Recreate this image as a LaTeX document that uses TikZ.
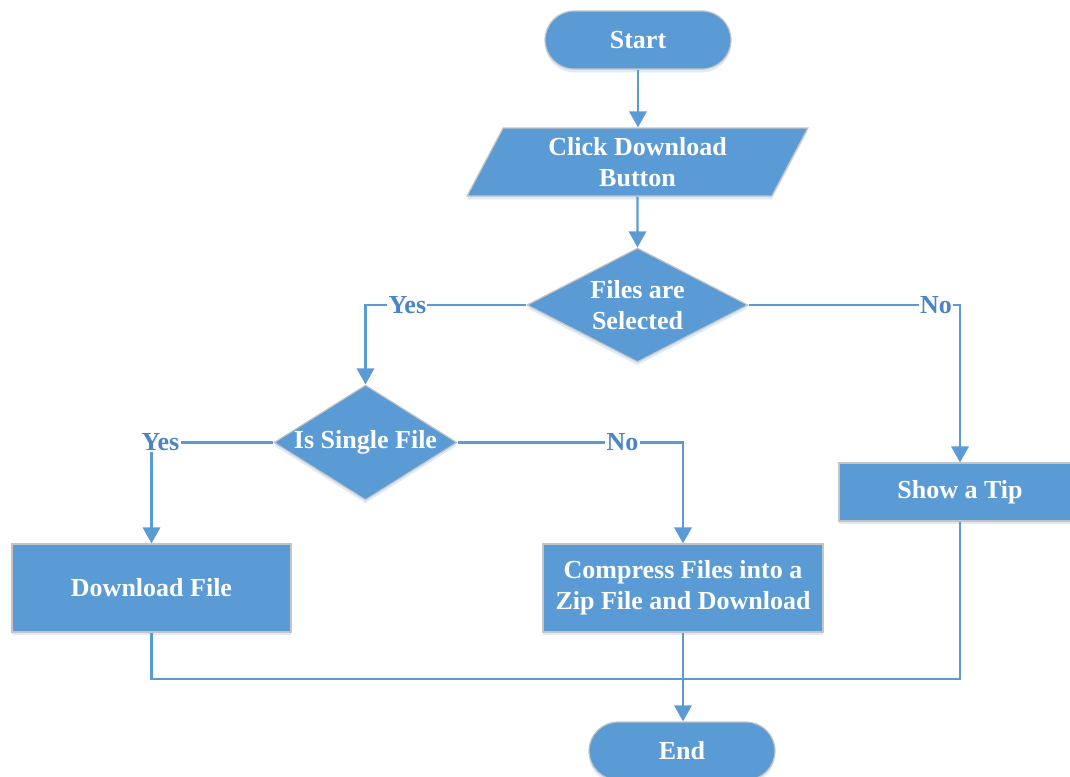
\documentclass[tikz,border=0pt]{standalone}
\usepackage{fontspec}
\setmainfont{Liberation Serif}
\usetikzlibrary{shapes.geometric,shapes.misc,arrows.meta,shadows}
\definecolor{boxblue}{HTML}{5B9BD5}
\definecolor{rimgray}{HTML}{C4C4C4}
\definecolor{lblblue}{HTML}{4A86C6}
\tikzset{
  base/.style={fill=boxblue, draw=rimgray, line width=0.9pt, text=white,
    font=\fontsize{19.5pt}{23pt}\selectfont\bfseries, align=center, inner sep=0pt,
    drop shadow={shadow xshift=0pt, shadow yshift=-2.5pt, fill=boxblue, opacity=0.2}},
  terminal/.style={base, rounded rectangle, minimum width=139.5pt, minimum height=43.5pt},
  io/.style={base, trapezium, trapezium left angle=64, trapezium right angle=116,
    trapezium stretches=true, minimum width=255.75pt, minimum height=51pt},
  decision/.style={base, diamond},
  process/.style={base, rectangle, minimum height=66pt},
  flow/.style={draw=boxblue, line width=1.8pt, -{Triangle[width=13pt,length=12pt]}},
  link/.style={draw=boxblue, line width=1.8pt},
  answer/.style={fill=white, text=lblblue, font=\fontsize{19.5pt}{23pt}\selectfont\bfseries, inner sep=1pt}
}
\begin{document}
\begin{tikzpicture}[x=0.75pt, y=-0.75pt]
  \clip (0,0) rectangle (1070,776);

  % boxes
  \node[terminal] (start) at (638,40) {Start};
  \node[io] (para) at (637.5,162) {Click Download\\Button};
  \node[decision, shape aspect=1.94, minimum width=165.75pt, minimum height=85.5pt] (d1) at (637.5,305) {Files are\\Selected};
  \node[decision, shape aspect=1.59, minimum width=137.25pt, minimum height=86.25pt] (d2) at (365.5,442.5) {Is Single File};
  \node[process, minimum width=181.5pt, minimum height=43.5pt] (tip) at (960,492) {Show a Tip};
  \node[process, minimum width=209.25pt] (dl) at (151.5,588) {Download File};
  \node[process, minimum width=210pt] (cz) at (683,588) {Compress Files into a\\Zip File and Download};
  \node[terminal] (end) at (682,751) {End};

  % connectors
  \draw[flow] (start.south) -- (start.south |- para.north);
  \draw[flow] (para.south) -- (d1.north);
  \draw[flow] (d1.west) -| node[answer, pos=0.37] (y1) {Yes} (d2.north);
  \draw[flow] (d1.east) -| node[answer, pos=0.443] (n1) {No} (tip.north);
  \draw[flow] (d2.west) -| node[answer, pos=0.463] (y2) {Yes} (dl.north);
  \draw[flow] (d2.east) -| node[answer, pos=0.366] (n2) {No} (cz.north);

  \coordinate (join) at (683,679);
  \draw[link] (dl.south) |- (join);
  \draw[link] (tip.south) |- (join);
  \draw[flow] (cz.south) -- (cz.south |- end.north);
\end{tikzpicture}
\end{document}
